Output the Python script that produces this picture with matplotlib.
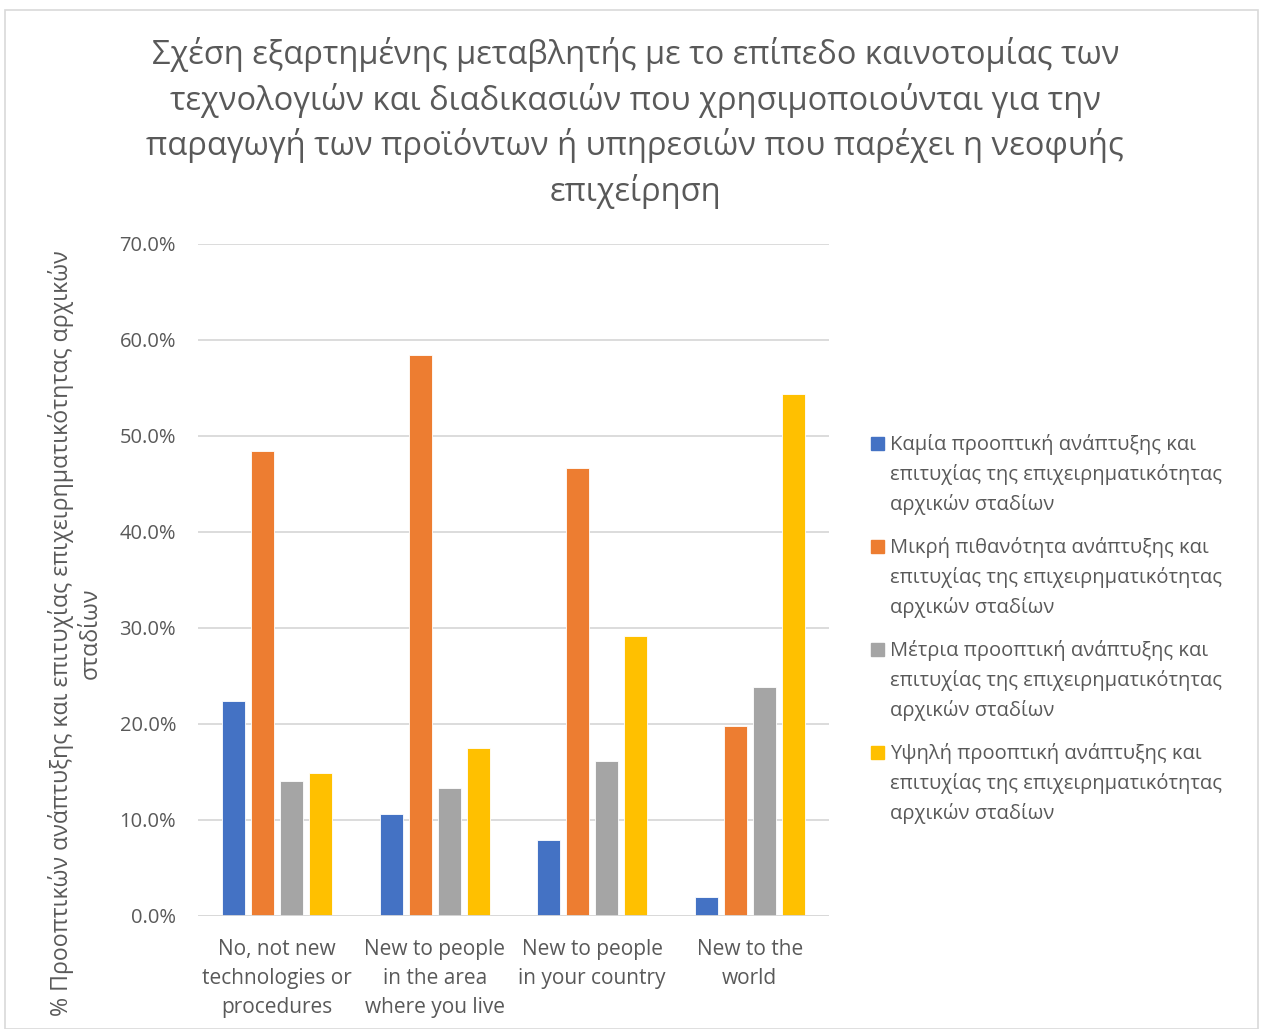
import numpy as np
import matplotlib
matplotlib.use("Agg")
import matplotlib.pyplot as plt
from matplotlib.patches import Rectangle

plt.rcParams['font.family'] = ['Open Sans', 'DejaVu Sans']

categories = ["No, not new\ntechnologies or\nprocedures",
              "New to people\nin the area\nwhere you live",
              "New to people\nin your country",
              "New to the\nworld"]

series_names = [
    "Καμία προοπτική ανάπτυξης και\nεπιτυχίας της επιχειρηματικότητας\nαρχικών σταδίων",
    "Μικρή πιθανότητα ανάπτυξης και\nεπιτυχίας της επιχειρηματικότητας\nαρχικών σταδίων",
    "Μέτρια προοπτική ανάπτυξης και\nεπιτυχίας της επιχειρηματικότητας\nαρχικών σταδίων",
    "Υψηλή προοπτική ανάπτυξης και\nεπιτυχίας της επιχειρηματικότητας\nαρχικών σταδίων",
]

kamia = [22.4, 10.6, 7.9, 2.0]
mikri = [48.4, 58.4, 46.7, 19.8]
metria = [14.0, 13.3, 16.1, 23.8]
ypsili = [14.9, 17.5, 29.1, 54.4]

colors = ["#4472C4", "#ED7D31", "#A5A5A5", "#FFC000"]
text_col = "#595959"

title = ("Σχέση εξαρτημένης μεταβλητής με το επίπεδο καινοτομίας των\n"
         "τεχνολογιών και διαδικασιών που χρησιμοποιούνται για την\n"
         "παραγωγή των προϊόντων ή υπηρεσιών που παρέχει η νεοφυής\n"
         "επιχείρηση")

W, H = 1263, 1029
fig = plt.figure(figsize=(W / 100, H / 100), dpi=100)
ax = fig.add_axes([0.157, 0.110, 0.499, 0.653])

x = np.arange(len(categories))
w = 0.146
step = 0.184
all_series = [kamia, mikri, metria, ypsili]
for i, vals in enumerate(all_series):
    ax.bar(x + (i - 1.5) * step, vals, width=w, color=colors[i],
           zorder=3, edgecolor='white', linewidth=0.6)

ax.set_xlim(-0.5, 3.5)
ax.set_ylim(0, 70)
ax.set_yticks(np.arange(0, 71, 10))
ax.set_yticklabels([f"{v:.1f}%" for v in np.arange(0, 71, 10)])
ax.set_xticks(x)
ax.set_xticklabels(categories, linespacing=1.5)
ax.grid(axis='y', color='#D9D9D9', linewidth=1.3, zorder=0)
for s in ax.spines.values():
    s.set_visible(False)
ax.axhline(0, color='#D9D9D9', linewidth=1.3, zorder=4)
ax.tick_params(axis='both', length=0, labelcolor=text_col)
ax.tick_params(axis='x', pad=17, labelsize=15)
ax.tick_params(axis='y', pad=16, labelsize=14.5)

ax.set_ylabel("% Προοπτικών ανάπτυξης και επιτυχίας επιχειρηματικότητας αρχικών\nσταδίων",
              fontsize=16.7, color=text_col, linespacing=1.27)
ax.yaxis.set_label_coords(-0.152, 0.42)

fig.text(0.503, 1 - 37 / H, title, ha='center', va='top', fontsize=23.5,
         color=text_col, linespacing=1.39)

# legend drawn by hand so the square sits on the first line of each entry
for i, name in enumerate(series_names):
    yc = 443 + 103 * i
    fig.patches.append(Rectangle((871 / W, 1 - (yc + 7) / H), 13 / W, 13 / H,
                                 transform=fig.transFigure, color=colors[i]))
    fig.text(890 / W, 1 - (yc - 9) / H, name, ha='left', va='top',
             fontsize=14.5, color=text_col, linespacing=1.55)

fig.patches.append(Rectangle((0.004, 0.0), 0.992, 0.99, transform=fig.transFigure,
                             fill=False, edgecolor='#D9D9D9', linewidth=1.2))

fig.savefig("out.png", dpi=100)
